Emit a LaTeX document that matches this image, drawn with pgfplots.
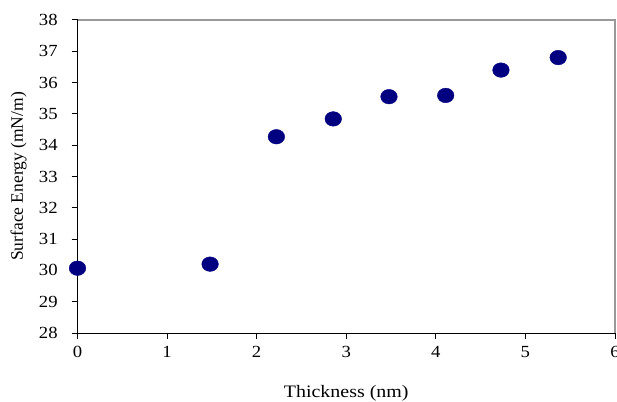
\documentclass[border=0pt]{standalone}
\usepackage{pgfplots}
\pgfplotsset{compat=1.18}
\usepackage{fontspec}
\setmainfont{Liberation Serif}
\definecolor{navy}{RGB}{0,0,128}
\begin{document}
\begin{tikzpicture}
\begin{axis}[
  name=ax,
  scale only axis,
  width=537.5pt, height=313pt,
  xmin=0, xmax=6, ymin=28, ymax=38,
  xtick={0,1,2,3,4,5,6},
  ytick={28,29,...,38},
  axis x line*=bottom,
  axis y line*=left,
  axis line style={black, line width=1pt, -},
  tick style={black, line width=1pt},
  xtick align=outside, ytick align=outside,
  major tick length=6pt,
  /pgf/number format/assume math mode=true,
  tick label style={font=\fontsize{17}{19}\selectfont},
  xticklabel style={yshift=-4pt, xscale=1.1},
  yticklabel style={xshift=-10pt, xscale=1.1},
  xlabel={Thickness (nm)},
  ylabel={Surface Energy (mN/m)},
  label style={font=\fontsize{17.5}{19}\selectfont},
  xlabel style={xscale=1.14, yshift=-20pt},
  ylabel style={yshift=5pt},
  clip=false,
]
\draw[gray!80, line width=1.2pt] (rel axis cs:0,1) -- (rel axis cs:1,1) -- (rel axis cs:1,0);
\addplot[only marks, mark=*, mark size=7.3pt, color=navy, mark options={fill=navy, draw=navy, xscale=1.14}]
coordinates {
(0,30.07) (1.48,30.2) (2.22,34.27) (2.855,34.84) (3.477,35.55) (4.11,35.59) (4.727,36.40) (5.366,36.80)
};
\end{axis}
\pgfresetboundingbox
\path[use as bounding box] ([shift={(-77.5pt,-68pt)}]ax.south west) rectangle ([shift={(2pt,20pt)}]ax.north east);
\end{tikzpicture}
\end{document}
